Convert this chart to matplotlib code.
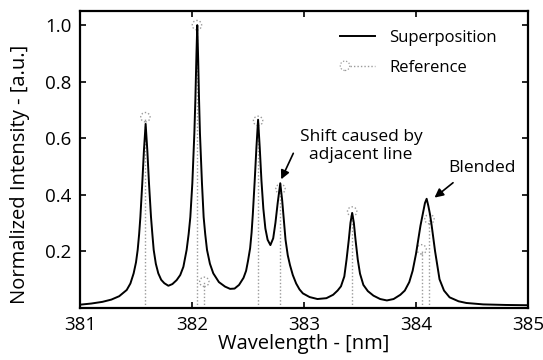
import matplotlib
matplotlib.use("Agg")
import matplotlib.pyplot as plt
from matplotlib.lines import Line2D
from matplotlib.patches import Circle
from matplotlib.legend_handler import HandlerBase

plt.rcParams['font.family'] = ['Open Sans', 'DejaVu Sans']

wl = [381.00, 381.10, 381.20, 381.28, 381.35, 381.417, 381.45, 381.479, 381.50, 381.515,
      381.528, 381.539, 381.556, 381.571, 381.586, 381.601, 381.616, 381.634, 381.646, 381.658,
      381.677, 381.699, 381.725, 381.753, 381.789, 381.825, 381.863, 381.895, 381.923, 381.952,
      381.970, 381.985, 382.003, 382.021, 382.030, 382.040, 382.047, 382.055, 382.063, 382.071,
      382.089, 382.104, 382.118, 382.134, 382.16, 382.19, 382.24, 382.295, 382.34, 382.38,
      382.42, 382.46, 382.483, 382.50, 382.519, 382.532, 382.543, 382.560, 382.575, 382.590,
      382.605, 382.620, 382.637, 382.655, 382.675, 382.700, 382.725, 382.745, 382.765, 382.788,
      382.805, 382.820, 382.835, 382.855, 382.875, 382.90, 382.93, 382.96, 382.99, 383.05,
      383.12, 383.20, 383.26, 383.30, 383.33, 383.36, 383.38, 383.40, 383.415, 383.43,
      383.445, 383.46, 383.48, 383.50, 383.53, 383.57, 383.62, 383.68, 383.74, 383.80,
      383.86, 383.90, 383.94, 383.97, 384.00, 384.02, 384.04, 384.06, 384.08, 384.095,
      384.11, 384.125, 384.14, 384.17, 384.21, 384.25, 384.30, 384.38, 384.45, 384.60,
      384.80, 385.00]
intensity = [0.010, 0.014, 0.020, 0.028, 0.040, 0.062, 0.085, 0.121, 0.160, 0.204,
             0.260, 0.320, 0.440, 0.557, 0.650, 0.557, 0.440, 0.320, 0.260, 0.204,
             0.155, 0.121, 0.098, 0.086, 0.077, 0.083, 0.097, 0.115, 0.144, 0.204,
             0.260, 0.320, 0.440, 0.617, 0.735, 0.900, 1.000, 0.880, 0.735, 0.617,
             0.440, 0.320, 0.260, 0.204, 0.155, 0.121, 0.090, 0.074, 0.066, 0.067,
             0.080, 0.105, 0.130, 0.165, 0.210, 0.265, 0.330, 0.450, 0.565, 0.665,
             0.565, 0.450, 0.350, 0.280, 0.240, 0.221, 0.245, 0.300, 0.370, 0.440,
             0.380, 0.310, 0.240, 0.185, 0.150, 0.115, 0.085, 0.064, 0.050, 0.037,
             0.030, 0.033, 0.045, 0.060, 0.075, 0.110, 0.170, 0.240, 0.300, 0.335,
             0.300, 0.240, 0.170, 0.120, 0.080, 0.058, 0.042, 0.030, 0.025, 0.030,
             0.045, 0.060, 0.090, 0.130, 0.190, 0.240, 0.290, 0.330, 0.370, 0.385,
             0.360, 0.330, 0.290, 0.200, 0.100, 0.060, 0.036, 0.022, 0.016, 0.011,
             0.009, 0.008]

# Reference lines
ref_wl = [381.584, 382.044, 382.11, 382.59, 382.79, 383.43, 384.05, 384.12]
ref_int = [0.674, 1.0, 0.091, 0.661, 0.42, 0.34, 0.206, 0.313]

xticks = [381, 382, 383, 384, 385]
yticks = [0.2, 0.4, 0.6, 0.8, 1.0]

ref_color = '#9a9a9a'
dot_style = (0, (1, 1.5))


class HandlerRef(HandlerBase):
    def create_artists(self, legend, orig_handle, xdescent, ydescent, width,
                       height, fontsize, trans):
        y = height / 2 - ydescent
        x0 = -xdescent
        mk = Circle((x0 + 3.6, y), radius=3.4, facecolor='none', edgecolor=ref_color,
                    linewidth=0.9, linestyle=dot_style, transform=trans)
        ln = Line2D([x0 + 7.5, x0 + width], [y, y], color=ref_color, lw=1.0,
                    ls=dot_style, transform=trans)
        return [mk, ln]


fig = plt.figure(figsize=(5.43, 3.60), dpi=100)
ax = fig.add_axes([80/543, 1-307.5/360, (528-80)/543, (307.5-11)/360])

for x, y in zip(ref_wl, ref_int):
    ax.plot([x, x], [0, y], color=ref_color, lw=1.0, ls=dot_style, zorder=1)
sc = ax.scatter(ref_wl, ref_int, s=45, facecolors='none', edgecolors=ref_color,
                linewidths=1.0, linestyle=dot_style, zorder=2)
line, = ax.plot(wl, intensity, color='black', lw=1.4, zorder=3)

ax.set_xlim(381, 385)
ax.set_ylim(0, 1.05)
ax.set_xticks(xticks)
ax.set_xticklabels([str(t) for t in xticks])
ax.set_yticks(yticks)
ax.set_yticklabels([f"{t:.1f}" for t in yticks])
ax.tick_params(direction='in', top=True, right=True, length=4, width=1.2,
               labelsize=13.5, pad=6, colors='black')
for s in ax.spines.values():
    s.set_linewidth(1.6)

ax.set_xlabel('Wavelength - [nm]', fontsize=14.5, labelpad=0)
ax.set_ylabel('Normalized Intensity - [a.u.]', fontsize=14.5)
ax.yaxis.set_label_coords(-0.112, 0.45)

ref_proxy = Line2D([], [])
leg = ax.legend([line, ref_proxy], ['Superposition', 'Reference'],
                handler_map={ref_proxy: HandlerRef()},
                loc='upper left', bbox_to_anchor=((340 - 80) / 448, 0.935),
                frameon=False, borderpad=0, borderaxespad=0,
                fontsize=12, handlelength=2.1, labelspacing=0.8, handletextpad=0.85)

ax.annotate('', xy=(382.786, 0.445), xytext=(382.915, 0.555),
            arrowprops=dict(arrowstyle='-|>', color='black', lw=1.2, mutation_scale=13))
ax.text(383.51, 0.572, 'Shift caused by\nadjacent line', ha='center', va='center',
        fontsize=12.5, linespacing=1.2)
ax.annotate('', xy=(384.146, 0.383), xytext=(384.35, 0.448),
            arrowprops=dict(arrowstyle='-|>', color='black', lw=1.2, mutation_scale=13))
ax.text(384.59, 0.493, 'Blended', ha='center', va='center', fontsize=12.5)

fig.savefig('out.png', dpi=100)
